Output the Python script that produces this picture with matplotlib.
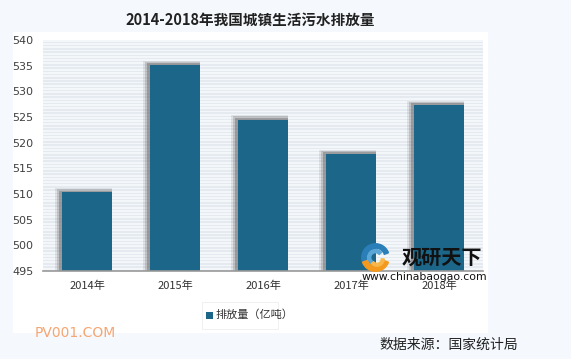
import numpy as np
import matplotlib
matplotlib.use("Agg")
import matplotlib.pyplot as plt
from matplotlib.patches import Rectangle, Wedge

plt.rcParams['font.family'] = ['Noto Sans CJK SC', 'DejaVu Sans']

years = ['2014年', '2015年', '2016年', '2017年', '2018年']
values = [510.3, 535.2, 524.5, 517.8, 527.3]
yticks = [495, 500, 505, 510, 515, 520, 525, 530, 535, 540]

BAR = '#1b6689'
BG = '#f5f9fd'

fig = plt.figure(figsize=(5.71, 3.59), dpi=100)
fig.patch.set_facecolor(BG)

# white panel behind the chart
fig.patches.append(Rectangle((13 / 571, 1 - 333 / 359), 475 / 571, 301 / 359,
                             transform=fig.transFigure, facecolor='white',
                             edgecolor='none', zorder=0))

ax = fig.add_axes([43 / 571, 1 - 271 / 359, 440 / 571, 231 / 359])
ax.set_zorder(2)
ax.set_facecolor('#f4f7fa')
ax.set_xlim(-0.5, 4.5)
ax.set_ylim(495, 540)

# striped background
step = 5 / 8
for y0 in np.arange(495, 540, step):
    ax.axhspan(y0, y0 + step * 0.45, color='#e5eaf0', lw=0, zorder=0)

x = np.arange(len(years))
w = 0.56
# soft shadow left/top of each bar
for dx, dy, a in [(0.08, 0.8, 0.12), (0.06, 0.6, 0.22), (0.04, 0.35, 0.35)]:
    ax.bar(x - dx / 2, np.array(values) - 495 + dy, bottom=495, width=w + dx,
           color='#555555', alpha=a, lw=0, zorder=1)
ax.bar(x, np.array(values) - 495, bottom=495, width=w, color=BAR, lw=0, zorder=2)

ax.set_xticks(x)
ax.set_xticklabels(years, fontsize=8, color='#333333')
ax.set_yticks(yticks)
ax.set_yticklabels([str(t) for t in yticks], fontsize=8, color='#404040',
                   family='DejaVu Sans')
ax.tick_params(length=0, pad=7)
ax.tick_params(axis='y', pad=7)
for s in ['top', 'right', 'left']:
    ax.spines[s].set_visible(False)
ax.spines['bottom'].set_color('#999999')
ax.spines['bottom'].set_linewidth(1.2)

fig.text(250 / 571, 1 - 20 / 359, '2014-2018年我国城镇生活污水排放量',
         ha='center', va='center', fontsize=10.5, fontweight='bold', color='#222222')

# legend
fig.patches.append(Rectangle((202 / 571, 1 - 329 / 359), 76 / 571, 27 / 359,
                             transform=fig.transFigure, facecolor='white',
                             edgecolor='#eeeeee', lw=0.6, zorder=3))
fig.patches.append(Rectangle((206 / 571, 1 - 319 / 359), 7 / 571, 7 / 359,
                             transform=fig.transFigure, facecolor=BAR,
                             edgecolor='none', zorder=4))
fig.text(216 / 571, 1 - 315 / 359, '排放量（亿吨）', ha='left', va='center',
         fontsize=8, color='#333333', zorder=5)

# watermark
fig.text(35 / 571, 1 - 333 / 359, 'PV001.COM', ha='left', va='center',
         fontsize=10, color='#f5a572', family='DejaVu Sans')
fig.text(518 / 571, 1 - 345 / 359, '数据来源：国家统计局', ha='right', va='center',
         fontsize=10, color='#222222')

# logo
fig.text(402 / 571, 1 - 257 / 359, '观研天下', ha='left', va='center',
         fontsize=14.5, fontweight='bold', color='#111111', zorder=6)
fig.text(362 / 571, 1 - 277 / 359, 'www.chinabaogao.com', ha='left', va='center',
         fontsize=7.8, color='#111111', family='DejaVu Sans', zorder=6)
lax = fig.add_axes([361 / 571, 1 - 272 / 359, 29 / 571, 29 / 359])
lax.set_zorder(3)
lax.set_xlim(-1, 1)
lax.set_ylim(-1, 1)
lax.set_aspect('equal')
lax.axis('off')
lax.add_patch(Wedge((0, 0), 0.95, 20, 200, width=0.3, color='#2a7fb8'))
lax.add_patch(Wedge((0, 0), 0.55, 40, 230, width=0.22, color='#5aa6d6'))
lax.add_patch(Wedge((0, 0), 0.95, 200, 340, width=0.35, color='#f39a1e'))
lax.add_patch(Wedge((0.1, -0.1), 0.5, 220, 360, width=0.2, color='#f7b74a'))

fig.savefig('out.png', dpi=100, facecolor=fig.get_facecolor())
